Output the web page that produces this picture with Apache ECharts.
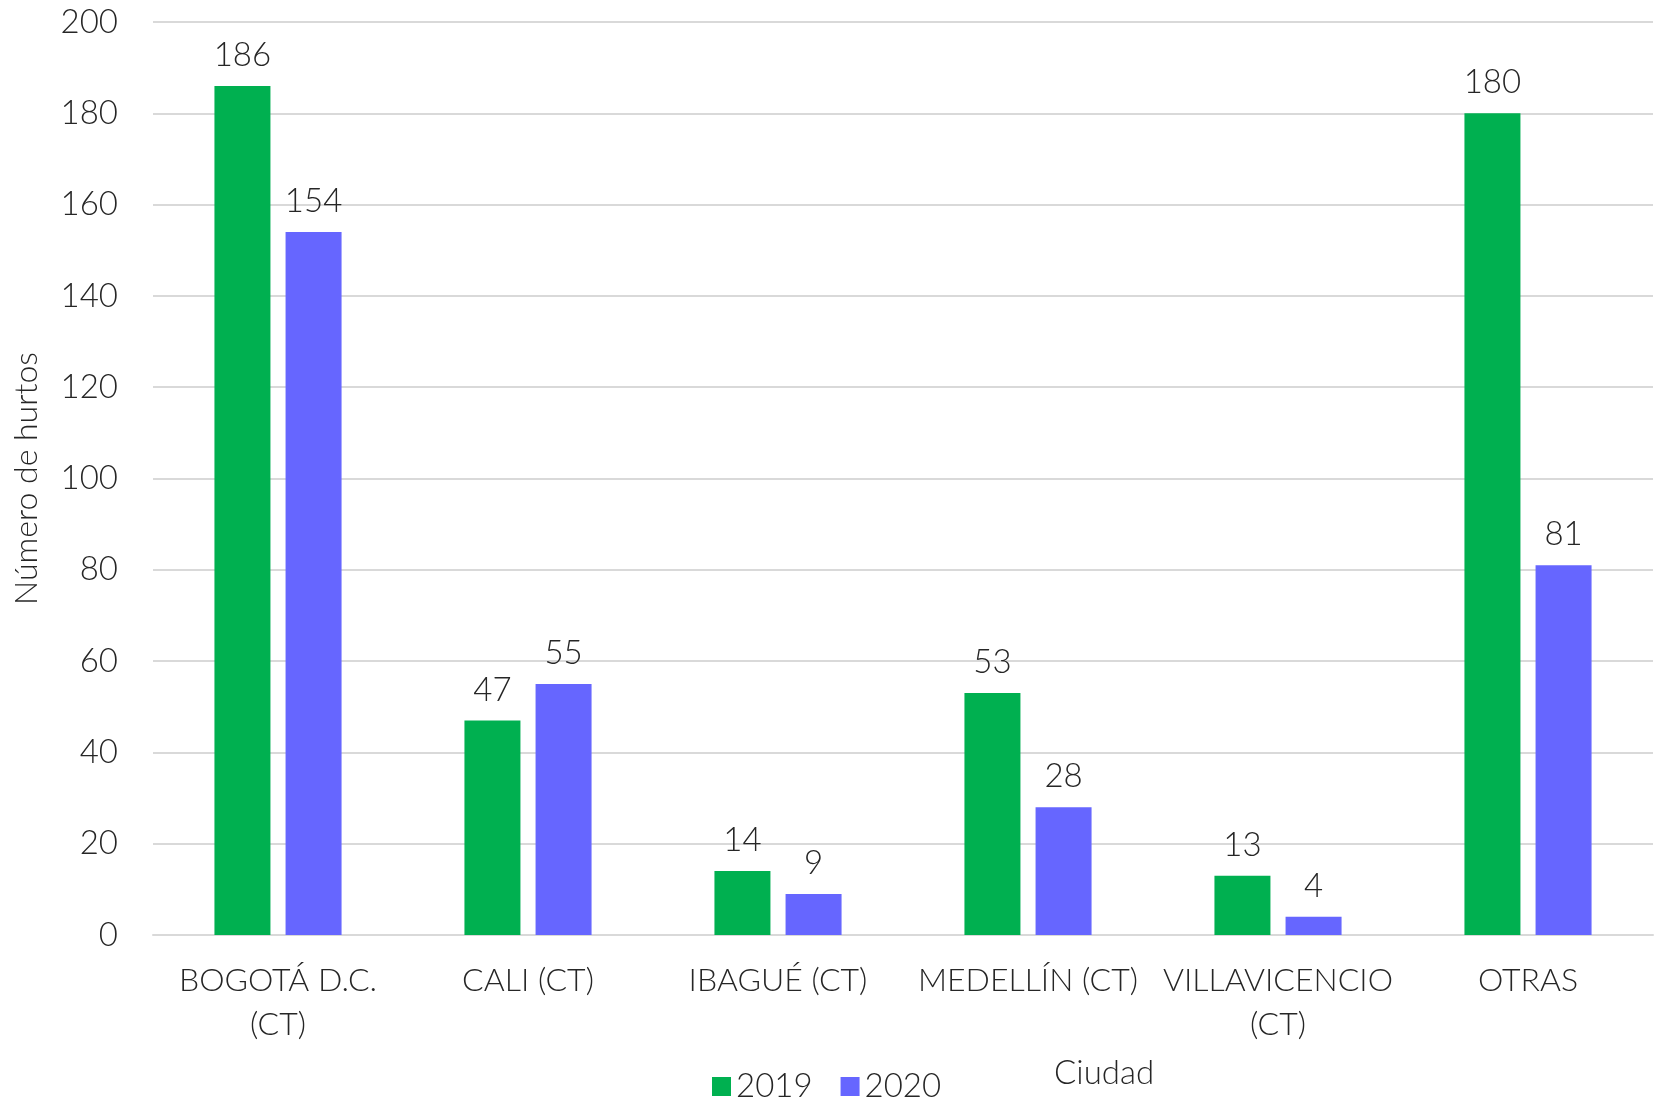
<!DOCTYPE html>
<html>
<head>
<meta charset="utf-8">
<script src="https://cdn.jsdelivr.net/npm/echarts@6/dist/echarts.min.js"></script>
<style>
  html, body { margin: 0; padding: 0; background: #fff; }
  #chart { width: 1660px; height: 1101px; }
</style>
</head>
<body>
<div id="chart"></div>
<script>
// categorías y datos
var ciudades = ['BOGOTÁ D.C.\n(CT)', 'CALI (CT)', 'IBAGUÉ (CT)', 'MEDELLÍN (CT)', 'VILLAVICENCIO\n(CT)', 'OTRAS'];
var datos2019 = [186, 47, 14, 53, 13, 180];
var datos2020 = [154, 55, 9, 28, 4, 81];
var ticksY = [0, 20, 40, 60, 80, 100, 120, 140, 160, 180, 200];

var fuente = 'Lato, "Noto Sans", sans-serif';
var gris = '#D9D9D9';
var texto = '#262626';

var myChart = echarts.init(document.getElementById('chart'));

function etiqueta() {
    return {
        show: true,
        position: 'top',
        distance: 14,
        fontSize: 33,
        color: texto,
        fontFamily: fuente,
        fontWeight: 300
    };
}

myChart.setOption({
    animation: false,
    textStyle: { fontFamily: fuente },
    grid: {
        left: 153,
        right: 7,
        top: 22,
        bottom: 166,
        outerBoundsMode: 'none'
    },
    legend: {
        data: ['2019', '2020'],
        left: 707,
        top: 1065,
        icon: 'rect',
        itemWidth: 19,
        itemHeight: 19,
        itemGap: 28,
        textStyle: { fontSize: 33, color: texto, fontFamily: fuente, fontWeight: 300 }
    },
    graphic: [{
        type: 'text',
        left: 1054,
        top: 1057,
        style: { text: 'Ciudad', fontSize: 33, fill: texto, fontFamily: fuente, fontWeight: 300 }
    }],
    xAxis: {
        type: 'category',
        data: ciudades,
        axisTick: { show: false },
        axisLine: { show: true, lineStyle: { color: gris, width: 2 } },
        axisLabel: {
            interval: 0,
            margin: 24,
            fontSize: 32,
            lineHeight: 44,
            color: texto,
            fontFamily: fuente,
            fontWeight: 300
        }
    },
    yAxis: {
        type: 'value',
        min: 0,
        max: ticksY[ticksY.length - 1],
        interval: 20,
        name: 'Número de hurtos',
        nameLocation: 'middle',
        nameGap: 110,
        nameTextStyle: { fontSize: 32, color: texto, fontFamily: fuente, fontWeight: 300 },
        axisLine: { show: false },
        axisTick: { show: false },
        axisLabel: { fontSize: 33, margin: 35, color: texto, fontFamily: fuente, fontWeight: 300 },
        splitLine: { lineStyle: { color: gris, width: 2 } }
    },
    series: [{
        name: '2019',
        type: 'bar',
        data: datos2019,
        barWidth: 56,
        barGap: '27%',
        itemStyle: { color: '#00B050' },
        label: etiqueta()
    }, {
        name: '2020',
        type: 'bar',
        data: datos2020,
        barWidth: 56,
        itemStyle: { color: '#6666FF' },
        label: etiqueta()
    }]
});
</script>
</body>
</html>
